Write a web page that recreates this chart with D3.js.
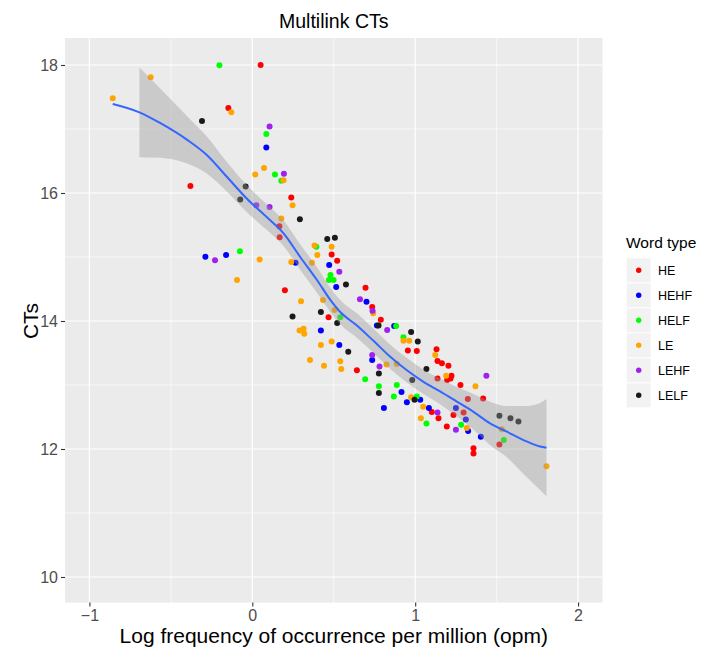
<!DOCTYPE html>
<html><head><meta charset="utf-8">
<script src="https://cdn.jsdelivr.net/npm/d3@7"></script>
<style>
html,body{margin:0;padding:0;background:#fff;}
svg text{font-family:"Liberation Sans",Arial,sans-serif;}
</style></head>
<body><svg id="c" width="702" height="657"></svg>
<script>
// ---- data ----
const seriesNames = ["HE","HEHF","HELF","LE","LEHF","LELF"];
const seriesColors = ["#FF0000","#0000FF","#00FF00","#FFA500","#A020F0","#1A1A1A"];
const HE = [[0.051,18.0],[-0.147,17.33],[-0.380,16.11],[0.239,15.93],[0.166,15.48],[0.168,15.31],[0.487,15.04],[0.521,14.94],[0.695,14.52],[0.200,14.48],[0.468,14.06],[0.642,13.23],[0.736,14.22],[0.789,14.02],[0.955,13.54],[1.010,13.53],[1.131,13.56],[1.137,13.375],[1.164,13.34],[1.204,13.30],[1.137,13.10],[1.223,13.145],[1.196,13.08],[1.217,13.10],[1.278,13.0],[1.323,12.78],[1.417,12.79],[1.102,12.58],[1.143,12.48],[1.235,12.53],[1.297,12.57],[1.194,12.35],[1.358,12.01],[1.358,11.93],[1.517,12.07]];
const HEHF = [[0.086,16.71],[-0.288,15.005],[-0.161,15.03],[0.266,14.91],[0.472,14.875],[0.515,14.53],[0.701,14.30],[0.421,13.85],[0.534,13.625],[0.765,13.93],[0.871,13.92],[0.736,13.39],[0.808,12.64],[0.916,12.89],[0.949,12.73],[1.031,12.77],[1.084,12.64],[1.250,12.64],[1.311,12.46],[1.325,12.28],[1.403,12.19]];
const HELF = [[-0.202,17.995],[0.086,16.92],[0.139,16.29],[0.178,16.19],[0.393,15.16],[-0.076,15.09],[0.480,14.72],[0.470,14.64],[0.499,14.64],[0.540,14.06],[0.693,13.09],[0.883,13.92],[0.928,13.745],[0.777,12.98],[0.887,13.0],[0.869,12.82],[1.010,12.82],[1.069,12.40],[1.282,12.38],[1.544,12.14]];
const LE = [[-0.857,17.48],[-0.624,17.81],[-0.129,17.26],[0.072,16.39],[0.018,16.29],[0.192,16.20],[0.247,15.81],[0.178,15.60],[0.382,15.18],[0.487,15.16],[0.399,15.03],[0.045,14.96],[0.239,14.92],[0.366,14.91],[-0.094,14.64],[0.299,14.31],[0.434,14.33],[0.505,14.17],[0.290,13.85],[0.315,13.88],[0.319,13.80],[0.421,13.625],[0.487,13.68],[0.354,13.39],[0.440,13.30],[0.540,13.37],[0.546,13.25],[0.742,14.12],[0.928,13.69],[0.963,13.69],[1.123,13.47],[1.190,13.145],[1.370,12.98],[0.824,13.32],[0.887,13.33],[0.975,12.81],[1.049,12.66],[1.035,12.48],[1.317,12.33],[1.532,12.31],[1.806,11.73]];
const LEHF = [[0.106,17.04],[0.194,16.30],[0.025,15.81],[0.106,15.78],[-0.229,14.95],[0.534,14.77],[0.661,14.34],[0.738,14.16],[0.828,13.86],[1.437,13.145],[0.736,13.47],[0.781,13.29],[1.137,12.57],[1.250,12.30]];
const LELF = [[-0.309,17.125],[-0.041,16.10],[-0.074,15.90],[0.292,15.59],[0.460,15.28],[0.507,15.30],[0.575,14.57],[0.421,14.14],[0.521,13.97],[0.247,14.07],[0.589,13.52],[0.775,13.93],[0.975,13.83],[1.016,13.68],[1.069,13.25],[0.982,13.08],[0.777,13.18],[0.777,12.875],[0.996,12.77],[1.517,12.52],[1.585,12.48],[1.634,12.43]];
// loess smooth
const smoothX  = [-0.857,-0.693,-0.564,-0.40,-0.278,-0.155,-0.033,0.09,0.192,0.294,0.397,0.479,0.54,0.642,0.744,0.847,0.949,1.051,1.153,1.256,1.358,1.46,1.563,1.665,1.767,1.806];
const smoothY  = [17.39,17.26,17.09,16.83,16.59,16.25,15.91,15.62,15.37,15.0,14.64,14.33,14.14,13.93,13.69,13.44,13.23,13.05,12.90,12.74,12.58,12.40,12.27,12.14,12.04,12.02];
const smoothSE = [null,0.70,0.54,0.37,0.29,0.23,0.21,0.20,0.20,0.20,0.20,0.19,0.19,0.19,0.19,0.19,0.19,0.19,0.20,0.23,0.28,0.34,0.40,0.53,0.68,0.76];
const xMajor = [-1,0,1,2], xMinor = [-0.5,0.5,1.5];
const yMajor = [10,12,14,16,18], yMinor = [11,13,15,17];

// ---- chart ----
const svg = d3.select("#c");
const L=65, R=602.5, T=39.4, B=602.6;
const x = d3.scaleLinear().domain([-1.15,2.15]).range([L,R]);
const y = d3.scaleLinear().domain([9.6,18.4]).range([B,T]);

svg.append("rect").attr("x",L).attr("y",T-1.4).attr("width",R-L).attr("height",B-T+1.4).attr("fill","#EBEBEB");
const grid = svg.append("g");
grid.selectAll(".xmin").data(xMinor).join("line").attr("x1",d=>x(d)).attr("x2",d=>x(d)).attr("y1",T-1.4).attr("y2",B).attr("stroke","#fff").attr("stroke-width",0.6);
grid.selectAll(".ymin").data(yMinor).join("line").attr("y1",d=>y(d)).attr("y2",d=>y(d)).attr("x1",L).attr("x2",R).attr("stroke","#fff").attr("stroke-width",0.6);
grid.selectAll(".xmaj").data(xMajor).join("line").attr("x1",d=>x(d)).attr("x2",d=>x(d)).attr("y1",T-1.4).attr("y2",B).attr("stroke","#fff").attr("stroke-width",1.2);
grid.selectAll(".ymaj").data(yMajor).join("line").attr("y1",d=>y(d)).attr("y2",d=>y(d)).attr("x1",L).attr("x2",R).attr("stroke","#fff").attr("stroke-width",1.2);

// points
const all = [HE,HEHF,HELF,LE,LEHF,LELF];
all.forEach((arr,i)=>{
  svg.append("g").selectAll("circle").data(arr).join("circle")
    .attr("cx",d=>x(d[0])).attr("cy",d=>y(d[1])).attr("r",3)
    .attr("fill",seriesColors[i]);
});

// smooth band + line
const sm = smoothX.map((v,i)=>({x:v,y:smoothY[i],se:smoothSE[i]}));
const band = d3.area().defined(d=>d.se!=null).x(d=>x(d.x)).y0(d=>y(d.y-d.se)).y1(d=>y(d.y+d.se)).curve(d3.curveMonotoneX);
svg.append("path").datum(sm).attr("d",band).attr("fill","#999999").attr("fill-opacity",0.4);
const line = d3.line().x(d=>x(d.x)).y(d=>y(d.y)).curve(d3.curveMonotoneX);
svg.append("path").datum(sm).attr("d",line).attr("fill","none").attr("stroke","#3366FF").attr("stroke-width",2);

// axes
const xAxis = svg.append("g").attr("transform",`translate(0,${B})`)
  .call(d3.axisBottom(x).tickValues(xMajor).tickSize(4).tickPadding(3).tickFormat(d3.format("d")));
const yAxis = svg.append("g").attr("transform",`translate(${L},0)`)
  .call(d3.axisLeft(y).tickValues(yMajor).tickSize(4).tickPadding(3).tickFormat(d3.format("d")));
[xAxis,yAxis].forEach(a=>{
  a.select(".domain").remove();
  a.selectAll(".tick line").attr("stroke","#333333").attr("stroke-width",1.1);
  a.selectAll(".tick text").attr("fill","#4D4D4D").style("font-size","16px").style("font-family","Liberation Sans, Arial, sans-serif");
});

// titles
svg.append("text").attr("x",(L+R)/2).attr("y",28).attr("text-anchor","middle").style("font-size","19.5px").attr("fill","#000").text("Multilink CTs");
svg.append("text").attr("x",(L+R)/2).attr("y",643).attr("text-anchor","middle").style("font-size","21px").attr("fill","#000").text("Log frequency of occurrence per million (opm)");
svg.append("text").attr("transform",`translate(38,${(T+B)/2}) rotate(-90)`).attr("text-anchor","middle").style("font-size","21px").attr("fill","#000").text("CTs");

// legend
const lg = svg.append("g");
lg.append("text").attr("x",626).attr("y",248).style("font-size","15.5px").attr("fill","#000").text("Word type");
seriesNames.forEach((n,i)=>{
  const ky = 258.3 + 25*i;
  lg.append("rect").attr("x",626.7).attr("y",ky).attr("width",24).attr("height",24).attr("fill","#F2F2F2");
  lg.append("circle").attr("cx",638.7).attr("cy",ky+12).attr("r",2.7).attr("fill",seriesColors[i]);
  lg.append("text").attr("x",658).attr("y",ky+12).attr("dy","0.35em").style("font-size","12.5px").attr("fill","#000").text(n);
});
</script></body></html>
